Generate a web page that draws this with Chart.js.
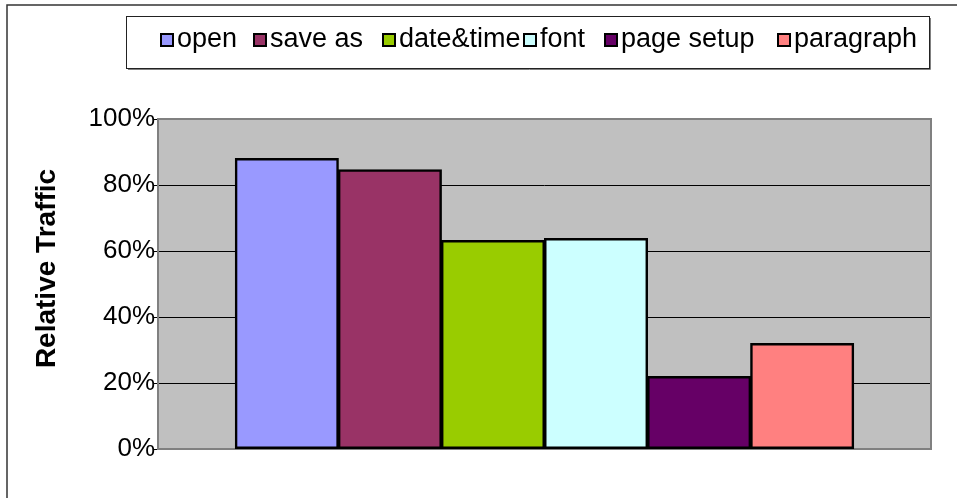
<!DOCTYPE html>
<html>
<head>
<meta charset="utf-8">
<script src="https://cdn.jsdelivr.net/npm/chart.js@4/dist/chart.umd.min.js"></script>
<style>
   html, body { margin: 0; padding: 0; background: #fff; }
   #wrap { position: relative; width: 957px; height: 498px; }
</style>
</head>
<body>
<div id="wrap"><canvas id="myChart" width="957" height="498"></canvas></div>
<script>
// menu commands and their share of traffic (percent)
const commands = ['open', 'save as', 'date&time', 'font', 'page setup', 'paragraph'];
const traffic = [88, 84.6, 63.2, 63.8, 22, 32];
const axisTitle = 'Relative Traffic';

const barColors = ['#9999FF', '#993366', '#99CC00', '#CCFFFF', '#660066', '#FF8080'];
const FONT = '"Liberation Sans", Arial, Helvetica, sans-serif';

// grey plot background, outer frame lines and the rotated axis title
const frame = {
   id: 'frame',
   beforeDraw(chart) {
      const { ctx, chartArea: a } = chart;
      ctx.save();
      ctx.fillStyle = '#C0C0C0';
      ctx.fillRect(a.left, a.top, a.right - a.left, a.bottom - a.top);

      ctx.strokeStyle = '#333';
      ctx.lineWidth = 1.5;
      ctx.beginPath();
      ctx.moveTo(957, 5);
      ctx.lineTo(7, 5);
      ctx.lineTo(7, 498);
      ctx.stroke();

      ctx.translate(47.5, 268.5);
      ctx.rotate(-Math.PI / 2);
      ctx.fillStyle = '#000';
      ctx.font = 'bold 28px ' + FONT;
      ctx.textAlign = 'center';
      ctx.textBaseline = 'middle';
      ctx.fillText(axisTitle, 0, 0);
      ctx.restore();
   },
   beforeDatasetsDraw(chart) {
      const { ctx, chartArea: a } = chart;
      ctx.save();
      ctx.strokeStyle = '#808080';
      ctx.lineWidth = 2;
      ctx.strokeRect(a.left, a.top, a.right - a.left, a.bottom - a.top);
      ctx.restore();
   },
};

// boxed legend across the top
const boxLegend = {
   id: 'boxLegend',
   afterDraw(chart) {
      const { ctx } = chart;
      const itemX = [161, 254, 383, 524, 605, 778];
      ctx.save();
      ctx.fillStyle = '#fff';
      ctx.fillRect(126, 16, 804, 53);
      ctx.strokeStyle = '#808080';
      ctx.lineWidth = 1;
      ctx.beginPath();
      ctx.moveTo(128, 69.5);
      ctx.lineTo(930.5, 69.5);
      ctx.lineTo(930.5, 18);
      ctx.stroke();
      ctx.strokeStyle = '#222';
      ctx.strokeRect(126.5, 16.5, 803, 52);

      ctx.font = '27px ' + FONT;
      ctx.textBaseline = 'alphabetic';
      chart.data.datasets.forEach((ds, i) => {
         const x = itemX[i];
         ctx.fillStyle = ds.backgroundColor;
         ctx.fillRect(x, 34, 12, 12);
         ctx.strokeStyle = '#000';
         ctx.lineWidth = 2;
         ctx.strokeRect(x, 34, 12, 12);
         ctx.fillStyle = '#000';
         ctx.fillText(ds.label, x + 16, 47);
      });
      ctx.restore();
   },
};

const ctx = document.getElementById('myChart').getContext('2d');

new Chart(ctx, {
   type: 'bar',
   data: {
      labels: [''],
      datasets: commands.map((name, i) => ({
         label: name,
         data: [traffic[i]],
         backgroundColor: barColors[i],
         borderColor: '#000',
         borderWidth: 2.5,
         borderSkipped: false,
         inflateAmount: 0.5,
      })),
   },
   options: {
      responsive: false,
      animation: false,
      layout: {
         padding: { left: 0, right: 26, top: 119, bottom: 49 },
      },
      categoryPercentage: 0.8,
      barPercentage: 1,
      plugins: {
         legend: { display: false },
         tooltip: { enabled: false },
      },
      scales: {
         x: {
            display: false,
         },
         y: {
            min: 0,
            max: 100,
            afterFit(scale) {
               scale.width = 158;
            },
            ticks: {
               stepSize: 20,
               padding: -2,
               color: '#000',
               font: { family: FONT, size: 26 },
               callback: (v) => v + '%',
            },
            grid: {
               color: '#000',
               lineWidth: 1,
               tickLength: 5,
               tickColor: '#000',
            },
            border: { display: false },
         },
      },
   },
   plugins: [frame, boxLegend],
});
</script>
</body>
</html>
